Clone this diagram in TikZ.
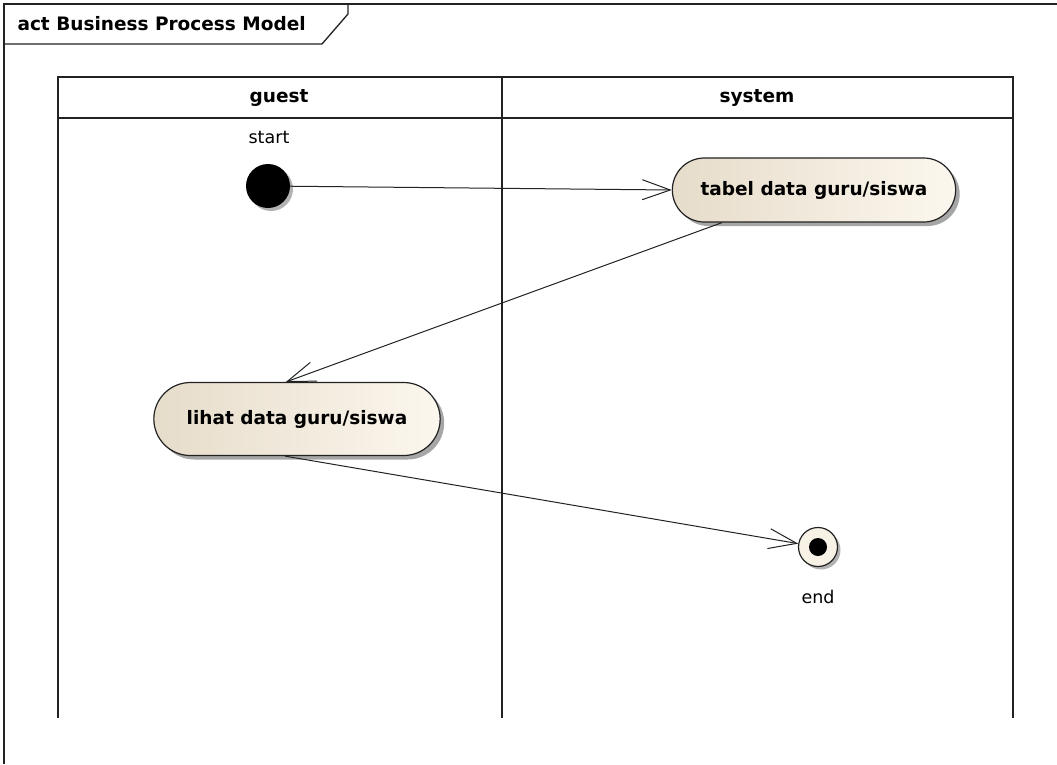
\documentclass[tikz,border=0pt]{standalone}
\usepackage{fontspec}
\setmainfont{DejaVu Sans}
\usetikzlibrary{arrows.meta,shadows,shapes.misc}
\definecolor{actL}{HTML}{E6DCCA}
\definecolor{actR}{HTML}{FCF7EE}
\definecolor{endfill}{HTML}{F8F1E6}
\definecolor{ink}{HTML}{222222}
\begin{document}
\begin{tikzpicture}[x=1pt,y=-1pt,
  frameline/.style={line width=1.3pt, draw=ink},
  laneline/.style={line width=1.6pt, draw=ink},
  boldtext/.style={font=\bfseries\fontsize{18.5}{22}\selectfont},
  action/.style={rounded rectangle, draw=ink, line width=1.2pt,
    minimum height=64pt, left color=actL, right color=actR, boldtext,
    drop shadow={shadow xshift=4pt, shadow yshift=-4pt, fill=black, opacity=0.35}},
  flow/.style={line width=1pt, draw=ink, -{Straight Barb[length=28pt,width=20pt,line width=1pt]}},
  plain/.style={font=\fontsize{17.5}{21}\selectfont}]
\useasboundingbox (0,0) rectangle (1057,764);
% diagram frame with its name tab
\draw[frameline] (4,764) -- (4,4) -- (1057,4);
\draw[frameline] (4,44) -- (322,44) -- (348,14) -- (348,4);
\node[anchor=west, boldtext] (frametitle) at (14,24) {act Business Process Model};
% swimlanes
\draw[laneline] (58,118) rectangle (1013,77);
\draw[laneline] (502,77) -- (502,718);
\draw[laneline] (58,118) -- (58,718);
\draw[laneline] (1013,118) -- (1013,718);
\node[boldtext] (lguest) at (279,98) {guest};
\node[boldtext] (lsystem) at (757,98) {system};
% initial node
\node[circle, fill=black, minimum size=44pt, inner sep=0pt,
  drop shadow={shadow xshift=3pt, shadow yshift=-3pt, fill=black, opacity=0.3}] (start) at (268,186) {};
\node[plain] (startlbl) at (269,137) {start};
% actions
\node[action, minimum width=290pt] (tabel) at (814,190) {tabel data guru/siswa};
\node[action, minimum width=293pt, minimum height=73pt] (lihat) at (297,419) {lihat data guru/siswa};
% final node
\node[circle, draw=ink, line width=1.2pt, fill=endfill, minimum size=39pt, inner sep=0pt,
  drop shadow={shadow xshift=3pt, shadow yshift=-3pt, fill=black, opacity=0.3}] (endn) at (818,547) {};
\node[circle, fill=black, minimum size=18pt, inner sep=0pt] (enddot) at (endn.center) {};
\node[plain] (endlbl) at (818,597) {end};
% control flows
\draw[flow] (start) -- (tabel.west);
\draw[flow] ([xshift=-92pt]tabel.south) -- ([xshift=-11pt]lihat.north);
\draw[flow] ([xshift=-12pt]lihat.south) -- (endn);
\end{tikzpicture}
\end{document}
